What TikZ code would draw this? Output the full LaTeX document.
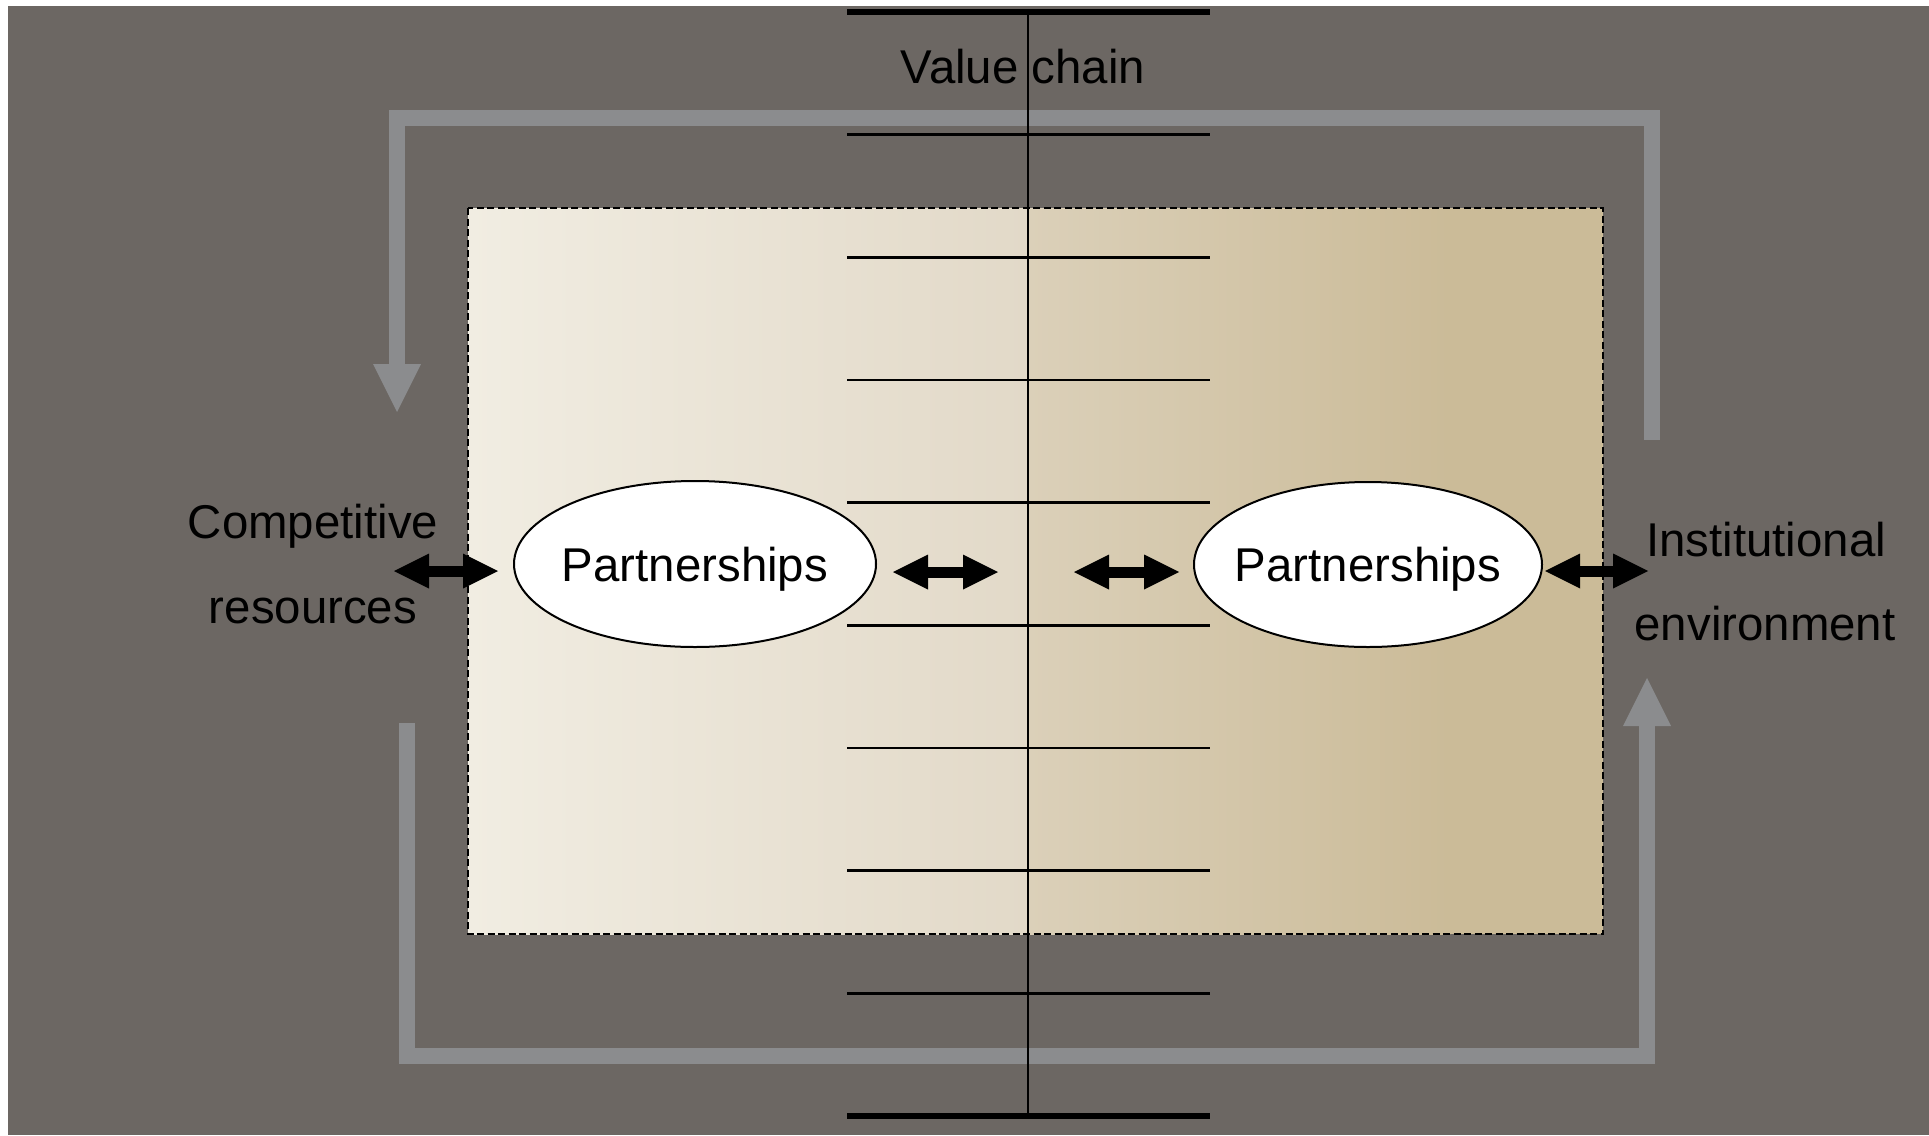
\documentclass[tikz,border=0pt]{standalone}
\usepackage{fontspec}
\setmainfont{Liberation Sans}
\usetikzlibrary{arrows.meta,shapes.geometric}
\definecolor{bg}{HTML}{6C6763}
\definecolor{loopgray}{HTML}{8B8C8E}
\definecolor{boxA}{HTML}{F1EDE2}
\definecolor{boxB}{HTML}{E2D9C8}
\definecolor{boxC}{HTML}{DBD0B9}
\definecolor{boxD}{HTML}{CBBB98}
\begin{document}
\begin{tikzpicture}[x=1pt,y=-1pt,
  lbl/.style={font=\fontsize{47.4}{56}\selectfont, inner sep=0pt, anchor=base},
  partner/.style={ellipse, draw=black, line width=2pt, fill=white, inner sep=0pt},
  tick/.style={line width=2.5pt},
  endtick/.style={line width=6pt},
  dbl/.style={line width=11pt,
    {Triangle[length=35pt,width=35pt,line width=0pt]}-{Triangle[length=35pt,width=35pt,line width=0pt]}},
  loop/.style={draw=loopgray, line width=16pt, line join=miter,
    -{Triangle[length=48pt,width=48pt,line width=0pt]}},
  frame/.style={draw=black, line width=1.6pt, dash pattern=on 7pt off 3.5pt},
]
\useasboundingbox (0,0) rectangle (1929,1135);
\fill[white] (0,0) rectangle (1929,1135);
\fill[bg] (8,6) rectangle (1929,1135);

% shaded box
\shade[left color=boxA, right color=boxB] (468,208) rectangle (1028,934);
\shade[left color=boxC, right color=boxD] (1028,208) rectangle (1450,934);
\fill[boxD] (1449,208) rectangle (1603,934);
\draw[frame] (468,208) rectangle (1603,934);

% feedback loops
\coordinate (topStart) at (1652,440);
\coordinate (topEnd) at (397,412);
\coordinate (botStart) at (407,723);
\coordinate (botEnd) at (1647,678);
\draw[loop] (topStart) -- (1652,118) -- (397,118) -- (topEnd);
\draw[loop] (botStart) -- (407,1056) -- (1647,1056) -- (botEnd);

% value chain axis
\draw[endtick] (847,12) -- (1210,12);
\draw[endtick] (847,1116) -- (1210,1116);
\foreach \k in {1,...,8}
  \draw[tick] (847,{12+\k*122.667}) -- (1210,{12+\k*122.667});
\draw[tick] (1028,12) -- (1028,1116);

% partnerships
\node[partner, minimum width=362pt, minimum height=166pt] (L) at (695,564) {};
\node[partner, minimum width=348pt, minimum height=165pt] (R) at (1368,564.5) {};
\node[lbl] (Lt) at ([yshift=-17pt]L.center) {Partnerships};
\node[lbl] (Rt) at ([yshift=-17pt]R.center) {Partnerships};

% labels
\node[lbl] (vc) at (1023,83) {Value chain};
\node[lbl] (comp) at (313,538) {Competitive};
\node[lbl] (res) at (313,623) {resources};
\node[lbl] (inst) at (1766,556) {Institutional};
\node[lbl] (env) at (1765,640) {environment};

% double arrows
\coordinate (a1) at (394,571);
\coordinate (a2) at (498,571);
\coordinate (a3) at (893,572);
\coordinate (a4) at (998,572);
\coordinate (a5) at (1074,572);
\coordinate (a6) at (1179,572);
\coordinate (a7) at (1545,571);
\coordinate (a8) at (1648,571);
\draw[dbl] (a1) -- (a2);
\draw[dbl] (a3) -- (a4);
\draw[dbl] (a5) -- (a6);
\draw[dbl] (a7) -- (a8);
\end{tikzpicture}
\end{document}
